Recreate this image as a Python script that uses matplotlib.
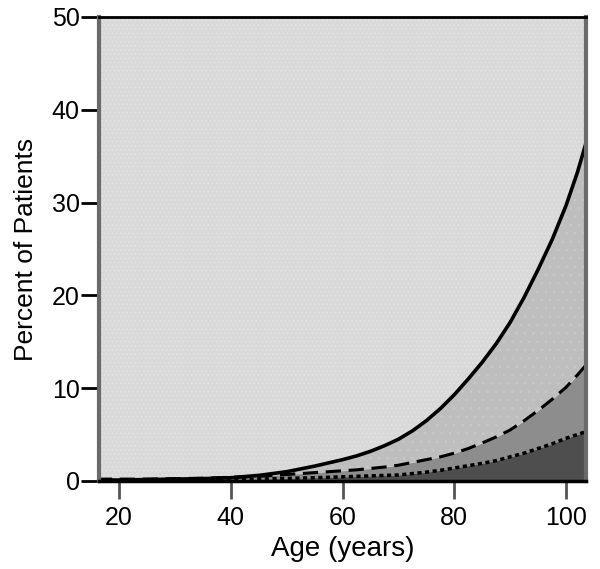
import numpy as np
import matplotlib.pyplot as plt

plt.rcParams['font.family'] = ['Liberation Sans', 'DejaVu Sans']
plt.rcParams['hatch.linewidth'] = 0.6

ages = [16, 20, 25, 30, 35, 40, 45, 50, 55, 60, 62.5, 65, 67.5, 70, 72.5, 75, 77.5,
        80, 82.5, 85, 87.5, 90, 92.5, 95, 97.5, 100, 102, 104]
solid = [0.1, 0.1, 0.15, 0.2, 0.25, 0.35, 0.6, 1.0, 1.6, 2.3, 2.7, 3.2, 3.8, 4.5, 5.4, 6.5, 7.8,
         9.3, 11.0, 12.8, 14.8, 17.1, 19.8, 22.8, 26.0, 29.7, 33.2, 37.3]
dashed = [0.2, 0.2, 0.2, 0.25, 0.3, 0.4, 0.5, 0.7, 0.9, 1.1, 1.2, 1.35, 1.5, 1.7, 2.0, 2.3, 2.6,
          3.0, 3.5, 4.1, 4.75, 5.5, 6.5, 7.6, 8.8, 10.1, 11.4, 12.8]
dotted = [0.05, 0.05, 0.08, 0.1, 0.12, 0.15, 0.2, 0.28, 0.35, 0.45, 0.5, 0.55, 0.6, 0.65, 0.8, 0.95, 1.15,
          1.4, 1.65, 1.9, 2.2, 2.6, 3.0, 3.5, 4.0, 4.6, 5.0, 5.4]
xticks = [20, 40, 60, 80, 100]
yticks = [0, 10, 20, 30, 40, 50]

fig = plt.figure(figsize=(6, 5.69), dpi=100)
ax = fig.add_axes([0.165, 0.1547, 0.812, 0.8155])

ax.set_facecolor('#d9d9d9')
ax.fill_between(ages, solid, 50, facecolor='#d9d9d9', edgecolor='#e4e4e4', hatch='....', lw=0)
ax.fill_between(ages, dashed, solid, facecolor='#bebebe', edgecolor='#c8c8c8', hatch='..', lw=0)
ax.fill_between(ages, dotted, dashed, color='#8d8d8d', lw=0)
ax.fill_between(ages, 0, dotted, color='#4e4e4e', lw=0)

ax.plot(ages, solid, color='black', lw=2.6)
ax.plot(ages, dashed, color='black', lw=2.2, dashes=(5, 2.5))
ax.plot(ages, dotted, color='black', lw=2.5, dashes=(1.2, 1.0))

ax.set_xlim(16.4, 103.6)
ax.set_ylim(0, 50)
ax.set_xticks(xticks)
ax.set_yticks(yticks)
ax.tick_params(axis='both', labelsize=18, width=2, length=13, direction='out')
ax.tick_params(axis='x', colors='#555555', labelcolor='black', pad=5)
ax.tick_params(axis='y', pad=1)

for side in ['left', 'right']:
    ax.spines[side].set_color('#6a6a6a')
    ax.spines[side].set_linewidth(3)
ax.spines['top'].set_linewidth(2)
ax.spines['bottom'].set_linewidth(2.5)

ax.set_xlabel('Age (years)', fontsize=20, labelpad=4)
ax.set_ylabel('Percent of Patients', fontsize=19, labelpad=10)

fig.savefig('out.png', dpi=100)
